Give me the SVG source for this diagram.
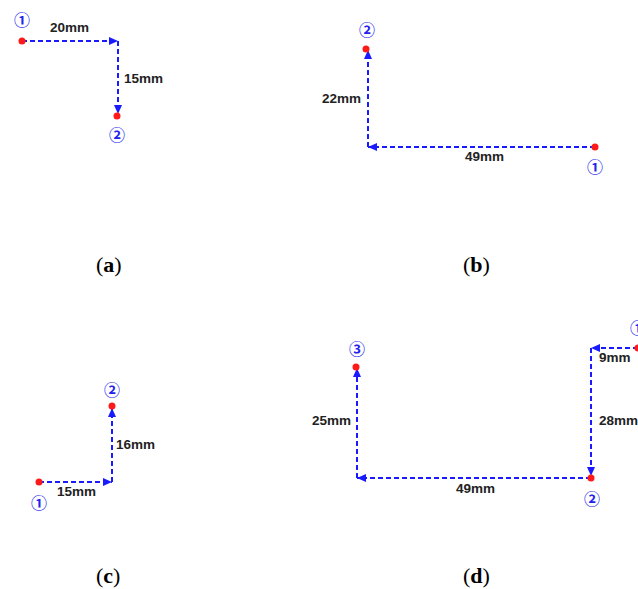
<svg xmlns="http://www.w3.org/2000/svg" width="638" height="589" viewBox="0 0 638 589">
  <style>
    .path { stroke: #1a1aff; stroke-width: 2; stroke-dasharray: 5 3; fill: none; marker-end: url(#arrow); }
    .pt { fill: #ff1a1a; }
    .num { font-family: "Noto Sans CJK KR", "DejaVu Sans", sans-serif; font-weight: bold; font-size: 16px; fill: #2222ee; text-anchor: middle; }
    .dim { font-family: "Liberation Sans", Arial, sans-serif; font-weight: bold; font-size: 13.5px; fill: #222; }
    .cap { font-family: "Liberation Serif", "DejaVu Serif", serif; font-size: 22px; fill: #000; }
  </style>
  <defs>
    <marker id="arrow" markerUnits="userSpaceOnUse" markerWidth="10" markerHeight="8" refX="9" refY="4" orient="auto">
      <path d="M0,0 L9,4 L0,8 z" fill="#1a1aff"/>
    </marker>
  </defs>

  <!-- connectors -->
  <g id="connectors">
    <!-- (a) -->
    <line class="path" x1="22" y1="41" x2="118" y2="41"/>
    <line class="path" x1="118" y1="41" x2="118" y2="114"/>
    <!-- (b) -->
    <line class="path" x1="595" y1="147" x2="368" y2="147"/>
    <line class="path" x1="368" y1="147" x2="368" y2="50"/>
    <!-- (c) -->
    <line class="path" x1="39" y1="482" x2="112" y2="482"/>
    <line class="path" x1="112" y1="482" x2="112" y2="408"/>
    <!-- (d) -->
    <line class="path" x1="638" y1="348" x2="591" y2="348"/>
    <line class="path" x1="591" y1="348" x2="591" y2="476"/>
    <line class="path" x1="591" y1="478" x2="357" y2="478"/>
    <line class="path" x1="357" y1="478" x2="357" y2="368"/>
  </g>

  <!-- (a) points -->
  <g id="a-p1"><circle class="pt" cx="22" cy="41" r="3.5"/><text class="num" x="22" y="26">①</text></g>
  <g id="a-p2"><circle class="pt" cx="117" cy="116" r="3.5"/><text class="num" x="117" y="141">②</text></g>
  <text class="dim" x="50" y="32">20mm</text>
  <text class="dim" x="124" y="83">15mm</text>
  <text class="cap" x="96" y="272">(<tspan font-weight="bold">a</tspan>)</text>

  <!-- (b) points -->
  <g id="b-p1"><circle class="pt" cx="595" cy="147" r="3.5"/><text class="num" x="595" y="173">①</text></g>
  <g id="b-p2"><circle class="pt" cx="366" cy="49" r="3.5"/><text class="num" x="367" y="36">②</text></g>
  <text class="dim" x="465" y="161">49mm</text>
  <text class="dim" x="322" y="103">22mm</text>
  <text class="cap" x="463" y="272">(<tspan font-weight="bold">b</tspan>)</text>

  <!-- (c) points -->
  <g id="c-p1"><circle class="pt" cx="39" cy="482" r="3.5"/><text class="num" x="39" y="509">①</text></g>
  <g id="c-p2"><circle class="pt" cx="112" cy="406" r="3.5"/><text class="num" x="112" y="396">②</text></g>
  <text class="dim" x="116" y="449">16mm</text>
  <text class="dim" x="57" y="496">15mm</text>
  <text class="cap" x="96" y="583">(<tspan font-weight="bold">c</tspan>)</text>

  <!-- (d) points -->
  <g id="d-p1"><circle class="pt" cx="638" cy="348" r="3.5"/><text class="num" x="638" y="334">①</text></g>
  <g id="d-p2"><circle class="pt" cx="591" cy="478" r="3.5"/><text class="num" x="592" y="505">②</text></g>
  <g id="d-p3"><circle class="pt" cx="356" cy="367" r="3.5"/><text class="num" x="357" y="355">③</text></g>
  <text class="dim" x="599" y="362">9mm</text>
  <text class="dim" x="599" y="425">28mm</text>
  <text class="dim" x="312" y="425">25mm</text>
  <text class="dim" x="456" y="493">49mm</text>
  <text class="cap" x="463" y="583">(<tspan font-weight="bold">d</tspan>)</text>
</svg>
